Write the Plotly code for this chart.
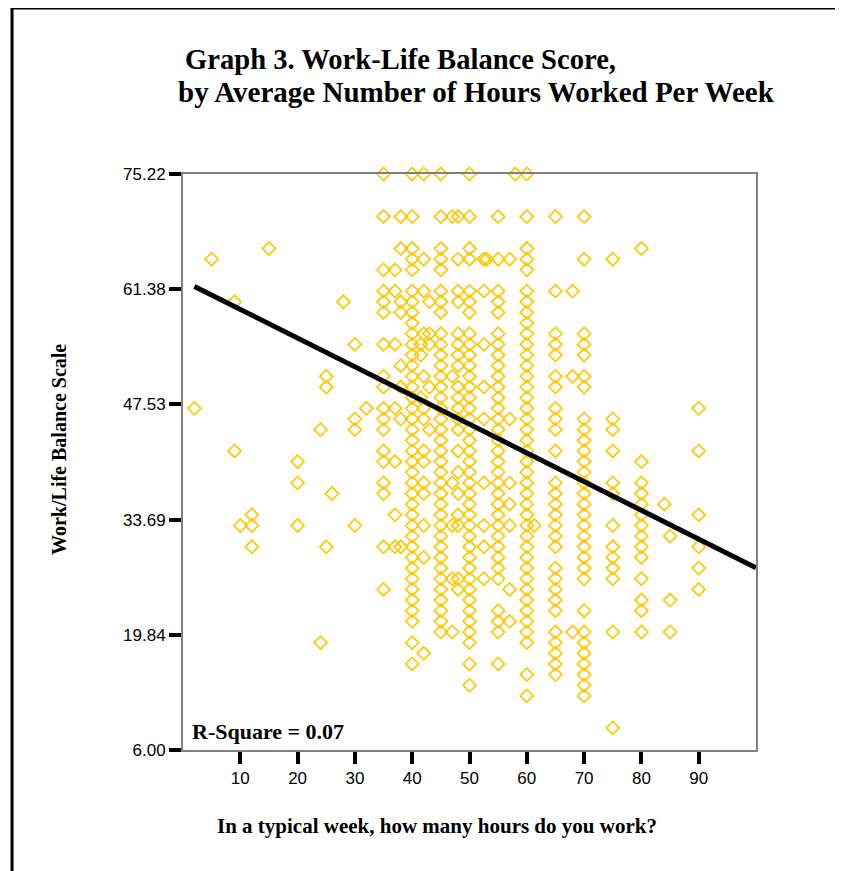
import plotly.graph_objects as go

# ---------------- data ----------------
# y tick labels of the Work/Life Balance Scale
y_tick_vals = [6.00, 19.84, 33.69, 47.53, 61.38, 75.22]
y_tick_text = ["6.00", "19.84", "33.69", "47.53", "61.38", "75.22"]
x_tick_vals = [10, 20, 30, 40, 50, 60, 70, 80, 90]

# sparse respondents with few working hours
low_hours = [2, 5, 9, 9, 10, 12, 12, 12, 15, 20, 20, 20, 24, 24, 25, 25, 25, 26, 28, 30, 30, 30, 30, 32]
low_scores = [47.06, 64.98, 59.86, 41.94, 32.98, 34.26, 32.98, 30.42, 66.26, 40.66, 38.10, 32.98,
              44.50, 18.90, 50.90, 49.62, 30.42, 36.82, 59.86, 54.74, 45.78, 44.50, 32.98, 47.06]

# scores for each reported number of hours
s35 = [75.22, 70.10, 63.70, 61.14, 59.86, 58.58, 54.74, 50.90, 49.62, 47.06, 45.78, 44.50, 41.94,
       40.66, 38.10, 36.82, 30.42, 25.30]
s37 = [63.70, 61.14, 54.74, 47.06, 40.66, 34.26, 30.42]
s38 = [70.10, 66.26, 59.86, 58.58, 52.18, 49.62, 45.78, 30.42]
s40 = [75.22, 70.10, 66.26, 64.98, 63.70, 61.14, 59.86, 58.58, 57.30, 56.02, 54.74, 53.46, 52.18,
       50.90, 49.62, 48.34, 47.06, 45.78, 44.50, 43.22, 41.94, 40.66, 39.38, 38.10, 36.82, 35.54,
       34.26, 32.98, 31.70, 30.42, 29.14, 27.86, 26.58, 25.30, 24.02, 22.74, 21.46, 18.90, 16.34]
s41 = [54.74, 53.46, 48.34]
s42 = [75.22, 64.98, 61.14, 56.02, 50.90, 47.06, 45.78, 41.94, 40.66, 38.10, 36.82, 32.98, 29.14, 17.62]
s43 = [59.86, 56.02, 54.74, 49.62, 44.50]
s45 = [75.22, 70.10, 66.26, 64.98, 63.70, 61.14, 59.86, 58.58, 56.02, 54.74, 53.46, 52.18, 50.90,
       49.62, 48.34, 47.06, 45.78, 44.50, 43.22, 41.94, 40.66, 39.38, 38.10, 36.82, 35.54, 34.26,
       32.98, 31.70, 30.42, 29.14, 27.86, 26.58, 25.30, 24.02, 22.74, 21.46, 20.18]
s47 = [70.10, 50.90, 38.10, 32.98, 26.58, 20.18]
s48 = [70.10, 64.98, 61.14, 59.86, 56.02, 54.74, 53.46, 52.18, 49.62, 48.34, 47.06, 45.78, 44.50,
       41.94, 39.38, 36.82, 34.26, 32.98, 26.58, 25.30]
s50 = [75.22, 70.10, 66.26, 64.98, 61.14, 59.86, 58.58, 56.02, 54.74, 53.46, 52.18, 50.90, 49.62,
       48.34, 47.06, 45.78, 44.50, 43.22, 41.94, 40.66, 39.38, 38.10, 36.82, 35.54, 34.26, 32.98,
       31.70, 30.42, 29.14, 27.86, 26.58, 25.30, 24.02, 22.74, 21.46, 20.18, 18.90, 16.34, 13.78]
s52 = [64.98, 61.14, 54.74, 49.62, 45.78, 38.10, 32.98, 30.42, 26.58]
s53 = [64.98]
s55 = [70.10, 64.98, 61.14, 59.86, 58.58, 56.02, 54.74, 53.46, 52.18, 50.90, 49.62, 48.34, 47.06,
       45.78, 44.50, 43.22, 41.94, 40.66, 39.38, 38.10, 36.82, 35.54, 34.26, 32.98, 31.70, 30.42,
       29.14, 27.86, 26.58, 22.74, 21.46, 20.18, 16.34]
s57 = [64.98, 45.78, 38.10, 35.54, 32.98, 25.30, 21.46]
s58 = [75.22]
s60 = [75.22, 70.10, 66.26, 64.98, 63.70, 61.14, 59.86, 58.58, 57.30, 56.02, 54.74, 53.46, 52.18,
       50.90, 49.62, 48.34, 47.06, 45.78, 44.50, 43.22, 41.94, 40.66, 39.38, 38.10, 36.82, 35.54,
       34.26, 32.98, 31.70, 30.42, 29.14, 27.86, 26.58, 25.30, 24.02, 22.74, 21.46, 20.18, 18.90,
       15.06, 12.50]
s61 = [32.98]
s65 = [70.10, 61.14, 56.02, 54.74, 53.46, 50.90, 49.62, 47.06, 45.78, 44.50, 41.94, 38.10, 36.82,
       35.54, 34.26, 32.98, 31.70, 30.42, 27.86, 26.58, 25.30, 24.02, 22.74, 20.18, 18.90, 17.62,
       16.34, 15.06]
s68 = [61.14, 50.90, 20.18]
s70 = [70.10, 64.98, 56.02, 54.74, 53.46, 50.90, 49.62, 45.78, 44.50, 43.22, 41.94, 40.66, 39.38,
       38.10, 36.82, 35.54, 34.26, 32.98, 31.70, 30.42, 29.14, 27.86, 26.58, 22.74, 20.18, 18.90,
       17.62, 16.34, 15.06, 13.78, 12.50]
s75 = [64.98, 45.78, 44.50, 41.94, 38.10, 36.82, 32.98, 30.42, 29.14, 27.86, 26.58, 20.18, 8.66]
s80 = [66.26, 40.66, 38.10, 36.82, 35.54, 34.26, 32.98, 31.70, 30.42, 29.14, 26.58, 24.02, 22.74, 20.18]
s84 = [35.54]
s85 = [31.70, 24.02, 20.18]
s90 = [47.06, 41.94, 34.26, 30.42, 27.86, 25.30]

column_hours = [35, 37, 38, 40, 41.5, 42, 43, 45, 47, 48, 50, 52.5, 53, 55, 57, 58, 60, 61.3,
                65, 68, 70, 75, 80, 84, 85, 90]
column_scores = [s35, s37, s38, s40, s41, s42, s43, s45, s47, s48, s50, s52, s53, s55, s57, s58,
                 s60, s61, s65, s68, s70, s75, s80, s84, s85, s90]

# linear fit line (R-Square = 0.07)
fit_hours = [2, 100]
fit_scores = [61.7, 27.9]

# ---------------- assemble ----------------
hours = list(low_hours)
scores = list(low_scores)
for h, col in zip(column_hours, column_scores):
    hours += [h] * len(col)
    scores += col

SERIF = "Liberation Serif, Times New Roman, serif"
SANS = "Liberation Sans, Arial, sans-serif"

fig = go.Figure()
fig.add_trace(go.Scatter(
    x=hours, y=scores, mode="markers", cliponaxis=False,
    marker=dict(symbol="diamond-open", size=10, color="#FFC800", line=dict(width=1.7, color="#FFC800")),
    showlegend=False, hoverinfo="x+y"))
fig.add_trace(go.Scatter(
    x=fit_hours, y=fit_scores, mode="lines", cliponaxis=False,
    line=dict(color="black", width=5), showlegend=False))

axis_common = dict(showgrid=False, zeroline=False, showline=True, linecolor="#808080", linewidth=2,
                   mirror=True, ticks="outside", ticklen=12, tickwidth=4, tickcolor="black",
                   tickfont=dict(family=SANS, size=17, color="black"))

fig.update_layout(
    width=843, height=871,
    # page body adds an 8px offset, so the plot area is placed 8px up/left
    margin=dict(l=175, r=95, t=166, b=129),
    paper_bgcolor="white", plot_bgcolor="white",
    xaxis=dict(range=[0, 100], tickvals=x_tick_vals, **axis_common),
    yaxis=dict(range=[6, 75.22], tickvals=y_tick_vals, ticktext=y_tick_text, **axis_common),
    annotations=[
        dict(text="<b>Graph 3. Work-Life Balance Score,</b>", xref="paper", yref="paper",
             x=0.0, y=1.198, xanchor="left", yanchor="middle", showarrow=False,
             font=dict(family=SERIF, size=28.6, color="black")),
        dict(text="<b>by Average Number of Hours Worked Per Week</b>", xref="paper", yref="paper",
             x=-0.0122, y=1.143, xanchor="left", yanchor="middle", showarrow=False,
             font=dict(family=SERIF, size=29, color="black")),
        dict(text="<b>Work/Life Balance Scale</b>", xref="paper", yref="paper",
             x=-0.2164, y=0.521, xanchor="center", yanchor="middle", textangle=-90, showarrow=False,
             font=dict(family=SERIF, size=20, color="black")),
        dict(text="<b>In a typical week, how many hours do you work?</b>", xref="paper", yref="paper",
             x=0.443, y=-0.132, xanchor="center", yanchor="middle", showarrow=False,
             font=dict(family=SERIF, size=21, color="black")),
        dict(text="<b>R-Square = 0.07</b>", xref="paper", yref="paper",
             x=0.0122, y=0.0318, xanchor="left", yanchor="middle", showarrow=False,
             font=dict(family=SERIF, size=22, color="black")),
    ],
    shapes=[dict(type="rect", xref="paper", yref="paper", x0=-0.2984, x1=1.1431, y0=-0.35, y1=1.2882,
                 line=dict(color="black", width=3), fillcolor="rgba(0,0,0,0)", layer="below")],
)

fig.write_html("out.html")
